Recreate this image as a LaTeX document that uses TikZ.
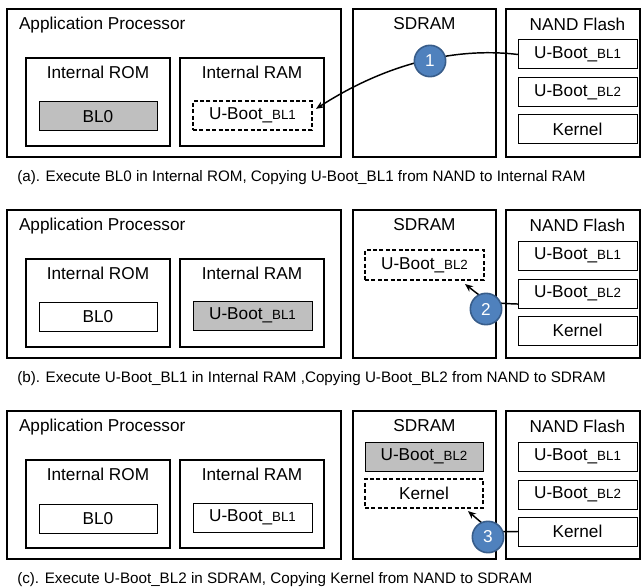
\documentclass[tikz,border=0pt]{standalone}
\usepackage{fontspec}
\setmainfont{Liberation Sans}
\usetikzlibrary{arrows.meta}
\definecolor{grayfill}{RGB}{191,191,191}
\definecolor{cblue}{RGB}{79,129,189}
\definecolor{cbord}{RGB}{56,93,138}
\newcommand{\lblf}{\fontsize{12.9}{14}\selectfont}
\newcommand{\capf}{\fontsize{11.4}{13}\selectfont}
\newcommand{\smf}{\fontsize{10}{12}\selectfont}
\newcommand{\ub}[1]{U-Boot\_{\smf BL#1}}
\newcommand{\bx}[7]{%
  \pgfmathsetmacro\bxw{(#5-#3)*0.75}%
  \pgfmathsetmacro\bxh{(#6-#4)*0.75}%
  \node[#2, minimum width=\bxw pt, minimum height=\bxh pt] (#1) at ({(#3+#5)/2},{(#4+#6)/2}) {#7};}
\newcommand{\panel}[1]{%
  \bx{ap#1}{thickbox}{7}{9}{341}{157}{}
  \node[base, anchor=west] (apt#1) at (19,25) {Application Processor};
  \bx{rom#1}{thickbox}{26}{58}{170}{146}{}
  \node[base] (romt#1) at (98,72) {Internal ROM};
  \bx{ram#1}{thickbox}{180}{58}{324}{146}{}
  \node[base] (ramt#1) at (252,72) {Internal RAM};
  \bx{sd#1}{thickbox}{353}{9}{496}{157}{}
  \node[base] (sdt#1) at (424.5,24) {SDRAM};
  \bx{nd#1}{thickbox}{506}{9}{640}{157}{}
  \node[base] (ndt#1) at (577.5,24) {NAND Flash};
  \bx{nba#1}{thinbox}{518}{40}{637}{69}{\ub1}
  \bx{nbb#1}{thinbox}{518}{78}{637}{107}{\ub2}
  \bx{nk#1}{thinbox}{518}{115}{637}{144}{Kernel}
}
\begin{document}
\begin{tikzpicture}[x=0.75pt, y=-0.75pt,
  base/.style={inner sep=0pt, outer sep=0pt, font=\lblf, text=black},
  thickbox/.style={base, draw, line width=1.5pt},
  thinbox/.style={base, draw, line width=0.75pt},
  dashbox/.style={base, draw, line width=1.4pt, dash pattern=on 3pt off 1.8pt},
  grayb/.style={thinbox, fill=grayfill},
  captxt/.style={inner sep=0pt, font=\capf, anchor=west},
  num/.style={circle, fill=cblue, draw=cbord, line width=1.2pt, minimum size=23.5pt, inner sep=0pt, text=white, font=\lblf},
  arr/.style={line width=1.1pt, -{Stealth[length=6pt,width=5pt]}}]
\useasboundingbox (0,0) rectangle (642,588);
% ---------- panel (a)
\begin{scope}
  \panel{a}
  \bx{bl0a}{grayb}{39}{102}{157}{131}{BL0}
  \bx{rca}{dashbox}{193}{101}{312}{130}{\ub1}
  \draw[arr] (nbaa.west) .. controls (465,48) and (395,58) .. ([xshift=3pt,yshift=5pt]rca.east);
  \node[num] (c1) at (430,61) {1};
  \node[captxt] (capa) at (17,178) {(a). Execute BL0 in Internal ROM, Copying U-Boot\_BL1 from NAND to Internal RAM};
\end{scope}
% ---------- panel (b)
\begin{scope}[shift={(0,201)}]
  \panel{b}
  \bx{bl0b}{thinbox}{39}{101}{157}{130}{BL0}
  \bx{rcb}{grayb}{193}{100}{312}{129}{\ub1}
  \bx{sub}{dashbox}{365}{49}{484}{79}{\ub2}
  \coordinate (t2) at (465,83);
  \draw[arr] ([yshift=-7.9pt]nbbb.west) .. controls (489,102) .. (t2);
  \node[num] (c2) at (486,108) {2};
  \node[captxt] (capb) at (17,178) {(b). Execute U-Boot\_BL1 in Internal RAM ,Copying U-Boot\_BL2 from NAND to SDRAM};
\end{scope}
% ---------- panel (c)
\begin{scope}[shift={(0,402)}]
  \panel{c}
  \bx{bl0c}{thinbox}{39}{102}{157}{131}{BL0}
  \bx{rcc}{thinbox}{193}{101}{312}{130}{\ub1}
  \bx{sgc}{grayb}{365}{40}{483}{69}{\ub2}
  \bx{skc}{dashbox}{365}{77}{483}{106}{Kernel}
  \coordinate (t3) at (468,109);
  \draw[arr] (nkc.west) .. controls (492,130) .. (t3);
  \node[num] (c3) at (488,135) {3};
  \node[captxt] (capc) at (17,178) {(c). Execute U-Boot\_BL2 in SDRAM, Copying Kernel from NAND to SDRAM};
\end{scope}
\end{tikzpicture}
\end{document}
